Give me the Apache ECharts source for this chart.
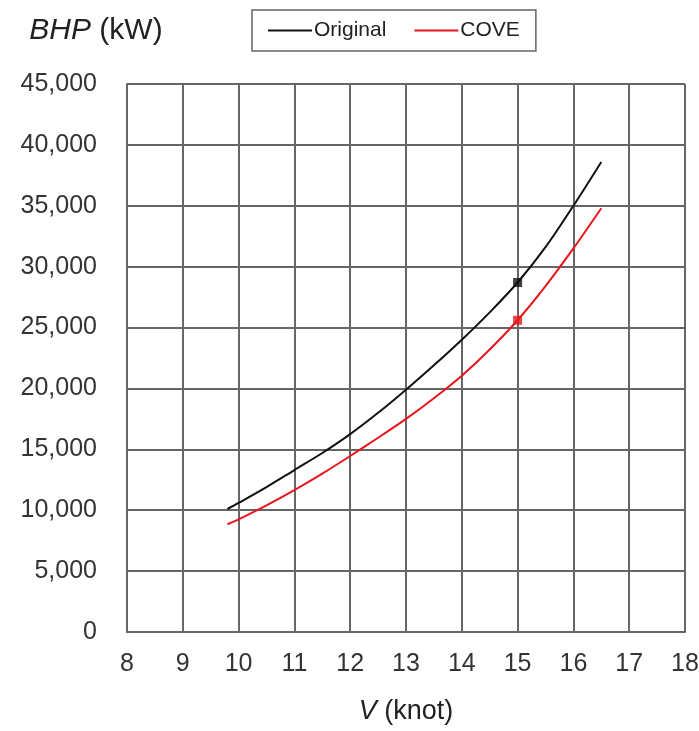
<!DOCTYPE html>
<html>
<head>
<meta charset="utf-8">
<script src="https://cdn.jsdelivr.net/npm/echarts@6/dist/echarts.min.js"></script>
<style>
  html, body { margin: 0; padding: 0; background: #fff; }
  #chart { width: 699px; height: 731px; }
</style>
</head>
<body>
<div id="chart"></div>
<script>
// speed (knot)
const speed = [9.8, 10, 10.5, 11, 11.5, 12, 12.5, 13, 13.5, 14, 14.5, 15, 15.5, 16, 16.5]
// BHP (kW)
const original = [10100, 10600, 11900, 13300, 14700, 16250, 18000, 19900, 21900, 24000, 26250, 28700, 31600, 35000, 38600]
const cove = [8850, 9250, 10400, 11650, 13000, 14450, 15950, 17500, 19200, 21050, 23200, 25600, 28400, 31500, 34800]
// design point
const designSpeed = 15
const designOriginal = 28700
const designCove = 25600

const gridColor = '#666'
const font = 'Liberation Sans, Arial, sans-serif'

const pairs = (xs, ys) => xs.map((x, i) => [x, ys[i]])

const chart = echarts.init(document.getElementById('chart'))
chart.setOption({
  animation: false,
  legend: {
    left: 252,
    top: 10,
    padding: [10, 16],
    itemGap: 28,
    itemWidth: 44,
    itemHeight: 2,
    icon: 'rect',
    borderColor: '#666',
    borderWidth: 1.5,
    textStyle: { fontSize: 21, color: '#222', fontFamily: font, padding: [0, 0, 0, -3] },
    data: ['Original', 'COVE']
  },
  grid: { left: 127, right: 14, top: 84, bottom: 99, outerBoundsMode: 'none', containLabel: false },
  xAxis: {
    type: 'value',
    min: 8,
    max: 18,
    interval: 1,
    name: '{i|V} (knot)',
    nameLocation: 'middle',
    nameGap: 66,
    nameTextStyle: {
      fontSize: 27, color: '#222', fontFamily: font,
      rich: { i: { fontSize: 27, fontStyle: 'italic', color: '#222', fontFamily: font } }
    },
    axisLine: { lineStyle: { color: gridColor, width: 2 } },
    axisTick: { show: false },
    axisLabel: { fontSize: 25, color: '#333', fontFamily: font, margin: 20 },
    splitLine: { lineStyle: { color: gridColor, width: 2 } }
  },
  yAxis: {
    type: 'value',
    min: 0,
    max: 45000,
    interval: 5000,
    name: '{i|BHP} (kW)',
    nameLocation: 'end',
    nameGap: 38,
    nameTextStyle: {
      fontSize: 30, color: '#222', fontFamily: font, align: 'center', padding: [0, 0, 0, -62],
      rich: { i: { fontSize: 30, fontStyle: 'italic', color: '#222', fontFamily: font } }
    },
    axisLine: { show: true, lineStyle: { color: gridColor, width: 2 } },
    axisTick: { show: false },
    axisLabel: {
      fontSize: 25, color: '#333', fontFamily: font, margin: 30,
      formatter: v => v.toLocaleString('en-US')
    },
    splitLine: { lineStyle: { color: gridColor, width: 2 } }
  },
  series: [
    {
      name: 'Original',
      type: 'line',
      smooth: 0.3,
      symbol: 'none',
      data: pairs(speed, original),
      lineStyle: { color: '#111', width: 2 },
      itemStyle: { color: '#111' }
    },
    {
      name: 'COVE',
      type: 'line',
      smooth: 0.3,
      symbol: 'none',
      data: pairs(speed, cove),
      lineStyle: { color: '#e8141c', width: 2 },
      itemStyle: { color: '#e8141c' }
    },
    {
      type: 'scatter',
      symbol: 'rect',
      symbolSize: 9,
      data: [[designSpeed, designOriginal]],
      itemStyle: { color: '#111' }
    },
    {
      type: 'scatter',
      symbol: 'rect',
      symbolSize: 9,
      data: [[designSpeed, designCove]],
      itemStyle: { color: '#e8141c' }
    }
  ]
})
</script>
</body>
</html>
